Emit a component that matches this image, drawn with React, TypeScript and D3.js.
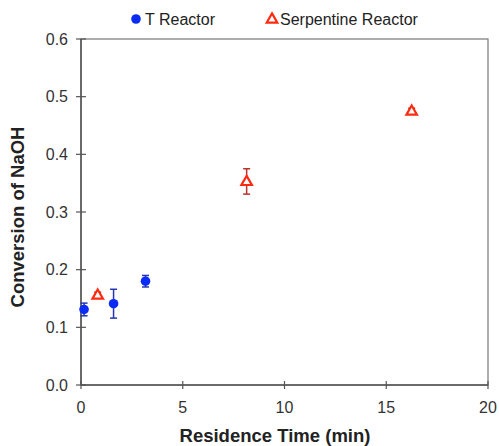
import React from "react";
import * as d3 from "d3";

const tX = [0.15, 1.6, 3.17];
const tY = [0.131, 0.141, 0.18];
const tErr = [0.011, 0.025, 0.01];

const sX = [0.82, 8.14, 16.25];
const sY = [0.156, 0.353, 0.475];
const sErr = [0.005, 0.022, 0.005];

const xTicks = [0, 5, 10, 15, 20];
const yTicks = [0, 0.1, 0.2, 0.3, 0.4, 0.5, 0.6];

const W = 499, H = 446;
const M = { left: 81, right: 11, top: 39, bottom: 61 };

export default function App() {
  const x = d3.scaleLinear().domain([0, 20]).range([M.left, W - M.right]);
  const y = d3.scaleLinear().domain([0, 0.6]).range([H - M.bottom, M.top]);
  const font = "Liberation Sans, Arial, sans-serif";
  const tri = d3.symbol().type(d3.symbolTriangle).size(48)();
  const axisColor = "#555";
  return (
    <svg width={W} height={H} style={{ position: "absolute", left: 0, top: 0 }} fontFamily={font}>
      <rect x={0} y={0} width={W} height={H} fill="white" />
      <rect x={M.left} y={M.top} width={W - M.left - M.right} height={H - M.top - M.bottom} fill="none" stroke="#777" strokeWidth={1.2} />
      <line x1={M.left} x2={M.left} y1={M.top} y2={H - M.bottom} stroke={axisColor} strokeWidth={1.5} />
      <line x1={M.left} x2={W - M.right} y1={H - M.bottom} y2={H - M.bottom} stroke={axisColor} strokeWidth={1.5} />
      {yTicks.map((t) => (
        <g key={"y" + t}>
          <line x1={M.left - 5} x2={M.left + 5} y1={y(t)} y2={y(t)} stroke={axisColor} strokeWidth={1.2} />
          <text x={68} y={y(t)} dy="0.36em" textAnchor="end" fontSize={16} fill="#333">{t.toFixed(1)}</text>
        </g>
      ))}
      {xTicks.map((t) => (
        <g key={"x" + t}>
          <line x1={x(t)} x2={x(t)} y1={H - M.bottom - 4} y2={H - M.bottom + 4} stroke={axisColor} strokeWidth={1.2} />
          <text x={x(t)} y={413} textAnchor="middle" fontSize={16} fill="#333">{t}</text>
        </g>
      ))}
      <text x={275} y={442} textAnchor="middle" fontSize={18.5} fontWeight="bold" fill="#222">Residence Time (min)</text>
      <text transform="translate(24,217) rotate(-90)" textAnchor="middle" fontSize={18.5} fontWeight="bold" fill="#222">Conversion of NaOH</text>

      {tX.map((v, i) => (
        <g key={"t" + i} stroke="#2436b0" strokeWidth={1.5}>
          <line x1={x(v)} x2={x(v)} y1={y(tY[i] - tErr[i])} y2={y(tY[i] + tErr[i])} />
          <line x1={x(v) - 3.5} x2={x(v) + 3.5} y1={y(tY[i] - tErr[i])} y2={y(tY[i] - tErr[i])} />
          <line x1={x(v) - 3.5} x2={x(v) + 3.5} y1={y(tY[i] + tErr[i])} y2={y(tY[i] + tErr[i])} />
          <circle cx={x(v)} cy={y(tY[i])} r={4.8} fill="#0a2cf5" stroke="none" />
        </g>
      ))}
      {sX.map((v, i) => (
        <g key={"s" + i}>
          <g stroke="#b8322a" strokeWidth={1.5}>
            <line x1={x(v)} x2={x(v)} y1={y(sY[i] - sErr[i])} y2={y(sY[i] + sErr[i])} />
            <line x1={x(v) - 3.5} x2={x(v) + 3.5} y1={y(sY[i] - sErr[i])} y2={y(sY[i] - sErr[i])} />
            <line x1={x(v) - 3.5} x2={x(v) + 3.5} y1={y(sY[i] + sErr[i])} y2={y(sY[i] + sErr[i])} />
          </g>
          <path d={tri!} transform={`translate(${x(v)},${y(sY[i]) + 0.5})`} fill="white" stroke="#ff2a10" strokeWidth={2.2} />
        </g>
      ))}

      <circle cx={136} cy={19} r={4.8} fill="#0a2cf5" />
      <text x={145} y={25} fontSize={16} fill="#222">T Reactor</text>
      <path d={tri!} transform="translate(272,19.5)" fill="white" stroke="#ff2a10" strokeWidth={2.2} />
      <text x={280} y={25} fontSize={16} fill="#222">Serpentine Reactor</text>
    </svg>
  );
}
